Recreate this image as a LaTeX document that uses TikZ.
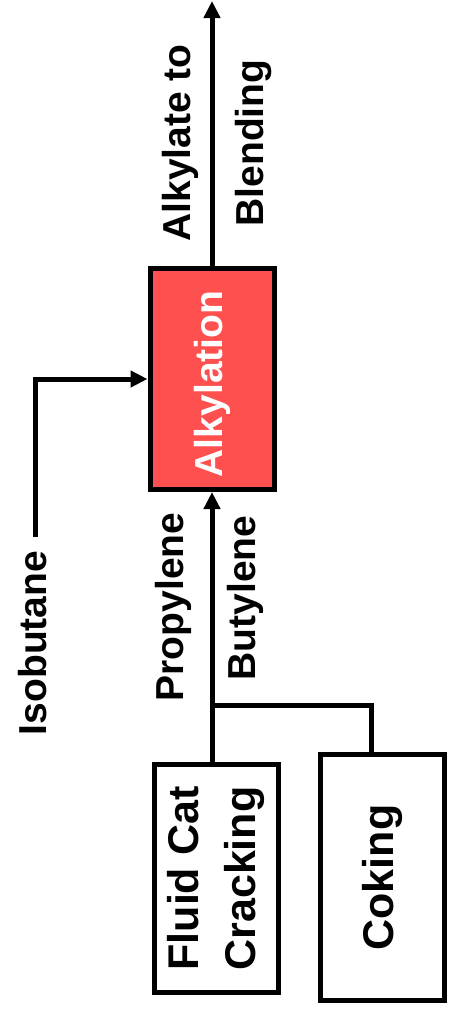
\documentclass[tikz,border=0pt]{standalone}
\usepackage{fontspec}
\setmainfont{Liberation Sans}
\usepackage{graphicx}
\usetikzlibrary{arrows.meta}
\definecolor{alkred}{HTML}{FF5050}
\begin{document}
\begin{tikzpicture}[x=1pt,y=-1pt,
  box/.style={draw=black,line width=5pt,fill=white,minimum width=124pt,inner sep=0pt,font=\fontsize{43}{57}\selectfont\bfseries},
  pipe/.style={draw=black,line width=5pt},
  flow/.style={pipe,-{Triangle[length=17pt,width=16pt]}},
  lbl/.style={rotate=90,font=\fontsize{39}{47}\selectfont\bfseries}]
\useasboundingbox (0,0) rectangle (450,1015);

\node[box,fill=alkred,text=white,minimum height=221pt,font=\fontsize{39}{47}\selectfont\bfseries](alk) at (212,379) {\rotatebox{90}{Alkylation\hspace*{10pt}}};
\node[box,minimum height=228pt](fcc) at (216,878.5) {\rotatebox{90}{\begin{tabular}{@{}c@{}}Fluid Cat\\Cracking\end{tabular}}};
\node[box,minimum height=246pt](cok) at (382.5,877.5) {\rotatebox{90}{Coking}};

\coordinate (jn) at (212,705);
\coordinate (cokdrop) at (371,705);
\coordinate (isoend) at (35,537);
\coordinate (out) at (212,1);

\draw[flow] (alk.south |- fcc.north) -- (alk.south);
\draw[pipe] (jn) -- (cokdrop) -- (cokdrop |- cok.north);
\draw[flow] (isoend) |- (alk.west);
\draw[flow] (alk.north) -- (out);

\node[lbl](isolbl) at (33,643) {Isobutane};
\node[lbl](prop) at (173,607) {Propylene};
\node[lbl](buty) at (245,598) {Butylene};
\node[lbl](alkto) at (180,143) {Alkylate to};
\node[lbl](blend) at (253,143) {Blending};
\end{tikzpicture}
\end{document}
